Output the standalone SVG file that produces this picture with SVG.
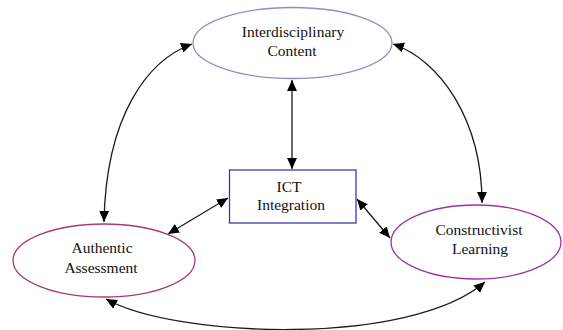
<svg xmlns="http://www.w3.org/2000/svg" width="563" height="330" viewBox="0 0 563 330">
  <style>
    .lbl { font-family: "Liberation Serif", "Times New Roman", serif; font-size: 15.5px; fill: #111; text-anchor: middle; }
    .conn { fill: none; stroke: #1a1a1a; stroke-width: 1.3; marker-start: url(#ah); marker-end: url(#ah); }
  </style>
  <defs>
    <marker id="ah" viewBox="0 0 10 10" refX="10" refY="5" markerWidth="11" markerHeight="11" markerUnits="userSpaceOnUse" orient="auto-start-reverse">
      <path d="M0,0.5 L10,5 L0,9.5 z" fill="#000"/>
    </marker>
  </defs>
  <rect width="563" height="330" fill="#fff"/>
  <g id="connectors">
    <path class="conn" d="M104,222 C106,115 148,60 192,44"/>
    <path class="conn" d="M393,44 C440,60 482,120 482,203"/>
    <path class="conn" d="M292,80 L292,169"/>
    <path class="conn" d="M168,234 L228,198"/>
    <path class="conn" d="M357,199 L390,238"/>
    <path class="conn" d="M106,299 C175,338 410,347 485,282"/>
  </g>
  <g id="interdisciplinary">
    <ellipse cx="292.5" cy="43" rx="99.5" ry="35.5" fill="#fff" stroke="#8f8fc4" stroke-width="1.3"/>
    <text class="lbl" x="293" y="37">Interdisciplinary</text>
    <text class="lbl" x="292" y="56">Content</text>
  </g>
  <g id="ict">
    <rect x="229.5" y="170" width="126.5" height="53" fill="#fff" stroke="#3a3ab0" stroke-width="1.3"/>
    <text class="lbl" x="289" y="192">ICT</text>
    <text class="lbl" x="291" y="210">Integration</text>
  </g>
  <g id="authentic">
    <ellipse cx="104" cy="260.5" rx="91" ry="36.5" fill="#fff" stroke="#a83a72" stroke-width="1.3"/>
    <text class="lbl" x="102" y="253">Authentic</text>
    <text class="lbl" x="101" y="273">Assessment</text>
  </g>
  <g id="constructivist">
    <ellipse cx="476" cy="242" rx="85" ry="37" fill="#fff" stroke="#a030a8" stroke-width="1.3"/>
    <text class="lbl" x="479" y="235">Constructivist</text>
    <text class="lbl" x="480" y="254">Learning</text>
  </g>
</svg>
